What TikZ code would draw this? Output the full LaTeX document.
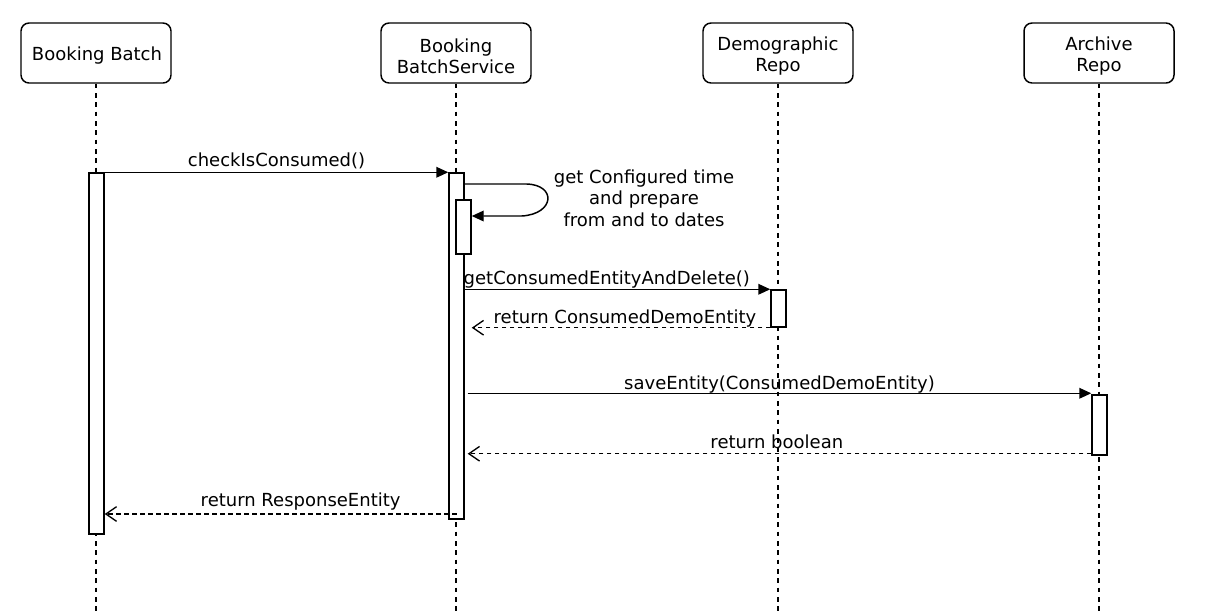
\documentclass[tikz,border=0pt]{standalone}
\usepackage{fontspec}
\setmainfont{DejaVu Sans}
\usetikzlibrary{arrows.meta,calc}
\begin{document}
\begin{tikzpicture}[x=0.75pt,y=-0.75pt,
  every node/.style={font=\fontsize{13.5}{16}\selectfont, inner sep=0pt},
  head/.style={draw, line width=1.1pt, rounded corners=6pt, minimum width=112.5pt,
    minimum height=45pt, align=center, fill=white},
  headtext/.style={align=center},
  life/.style={line width=1.1pt, dash pattern=on 3.5pt off 3.5pt},
  act/.style={draw, line width=1.1pt, fill=white, minimum width=11.25pt, inner sep=0pt},
  call/.style={line width=1.1pt, -{Triangle[length=9pt,width=8pt]}},
  reply/.style={line width=1.1pt, dash pattern=on 3.5pt off 2.5pt,
    -{Straight Barb[length=8pt,width=11pt,line width=1pt]}},
  lbl/.style={anchor=south, inner sep=1pt}]
\useasboundingbox (0,0) rectangle (1205,615);

% participants
\node[head] (bb)  at (96,53)   {};
\node[head] (bbs) at (456,53)  {};
\node[head] (dr)  at (778,53)  {};
\node[head] (ar)  at (1099,53) {};
\node[headtext] (bbT)  at (97,56)   {Booking Batch};
\node[headtext] (bbsT) at (456,56)  {Booking\\BatchService};
\node[headtext] (drT)  at (778,56)  {Demographic\\Repo};
\node[headtext] (arT)  at (1099,56) {Archive\\Repo};

% lifeline ends
\coordinate (bbEnd)  at (96,615);
\coordinate (bbsEnd) at (456,615);
\coordinate (drEnd)  at (778,615);
\coordinate (arEnd)  at (1099,615);
\draw[life] (bb.south)  -- (bbEnd);
\draw[life] (bbs.south) -- (bbsEnd);
\draw[life] (dr.south)  -- (drEnd);
\draw[life] (ar.south)  -- (arEnd);

% activations
\node[act, minimum height=270.75pt] (a1) at (96.5,353.5) {};
\node[act, minimum height=259.5pt]  (a2) at (456.5,346) {};
\node[act, minimum height=40.5pt]   (a3) at (463.5,227) {};
\node[act, minimum height=27.75pt]  (a4) at (778.5,308.5) {};
\node[act, minimum height=45pt]     (a5) at (1099.5,425) {};

% checkIsConsumed()
\draw[call] (a1.north east) -- (a2.north west)
  node[lbl, midway, yshift=1pt] (m1) {checkIsConsumed()};

% self call
\coordinate (s1) at (a2.east |- 0,184);
\coordinate (s2) at (a3.east |- 0,216);
\draw[call] (s1) -- ($(s1)+(62,0)$) .. controls ($(s1)+(92,1)$) and ($(s2)+(83,-2)$) .. ($(s2)+(50,0)$) -- (s2);
\node[align=center] (m2) at (644,198) {get Configured time\\and prepare\\from and to dates};

% getConsumedEntityAndDelete()
\coordinate (g1) at (a2.east |- a4.north);
\draw[call] (g1) -- (a4.north west)
  node[lbl, midway, xshift=-8pt, yshift=-1pt] (m3) {getConsumedEntityAndDelete()};

% return ConsumedDemoEntity
\coordinate (r1) at (a3.east |- a4.south);
\draw[reply] (a4.south west) -- (r1)
  node[lbl, midway, xshift=3pt, yshift=-1pt] (m4) {return ConsumedDemoEntity};

% saveEntity(ConsumedDemoEntity)
\coordinate (v1) at ($(a2.east |- a5.north)+(3,-1)$);
\draw[call] (v1) -- ($(a5.north west)+(0,-1)$)
  node[lbl, midway, yshift=-1.5pt] (m5) {saveEntity(ConsumedDemoEntity)};

% return boolean
\coordinate (b0) at ($(a5.south west)+(0,-2)$);
\coordinate (b1) at ($(a2.east |- a5.south)+(3,-2)$);
\draw[reply] (b0) -- (b1)
  node[lbl, midway, xshift=-2pt, yshift=2pt] (m6) {return boolean};

% return ResponseEntity
\coordinate (e0) at (a2 |- 0,514);
\draw[reply] (e0) -- (a1.east |- e0)
  node[lbl, midway, xshift=15pt, yshift=1pt] (m7) {return ResponseEntity};
\end{tikzpicture}
\end{document}
